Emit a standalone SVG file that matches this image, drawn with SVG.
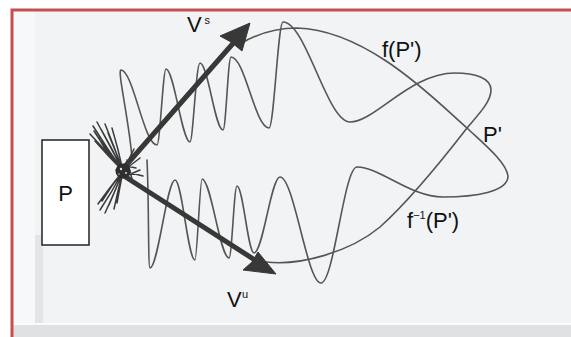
<svg xmlns="http://www.w3.org/2000/svg" width="571" height="337" viewBox="0 0 571 337">
<style>
.curve{fill:none;stroke:#555;stroke-width:1.6;stroke-linecap:round;stroke-linejoin:round}
.shaft{fill:none;stroke:#383838;stroke-width:5;stroke-linecap:round}
.head{fill:#383838;stroke:#383838;stroke-width:1;stroke-linejoin:round}
.scr{fill:none;stroke:#3a3a3a;stroke-width:1.5;stroke-linecap:round}
.lbl{font-family:"Liberation Sans",Arial,sans-serif;font-size:22px;fill:#111}
.sup{font-family:"Liberation Sans",Arial,sans-serif;font-size:11px;fill:#111}
.frame{fill:none;stroke:#c4504c;stroke-width:3}
</style>
<rect x="0" y="0" width="571" height="337" fill="#ffffff"/>
<rect x="12" y="10" width="559" height="327" fill="#f1f3f5"/>
<rect x="13" y="11" width="22" height="326" fill="#f7f8f9"/>
<rect x="35" y="235" width="8" height="102" fill="#e2e4e7"/>
<rect x="12" y="323" width="559" height="2" fill="#fafbfc"/>
<rect x="12" y="325" width="559" height="12" fill="#dfe1e3"/>
<path class="frame" d="M12,337 V10 H571"/>

<g id="connectors">
  <g id="upper-manifold">
    <path class="curve" d="M132,158 C129,120 117,70 121,70 C133,70 144,145 157,145 C160,145 163,69 166,69 C174,69 182,142 190,142 C193,142 196,63 200,63 C208,63 215,130 223,130 C226,130 228,57 231,57 C245,57 255,128 269,128 C274,128 278,22 283,22 C306,22 327,122 350,122 C375,122 410,73 455,73 C475,73 491,78 491,90 C491,102 478,115 467,128 C450,150 410,200 380,227 C350,252 300,266 266,262"/>
  </g>
  <g id="lower-manifold">
    <path class="curve" d="M147,160 C149,200 148,268 150,268 C158,268 167,180 175,180 C182,180 188,260 195,260 C197,260 200,179 202,179 C211,179 220,258 229,258 C232,258 234,186 237,186 C243,186 248,253 254,253 C263,253 271,177 280,177 C294,177 307,283 321,283 C334,283 344,167 357,167 C380,167 410,197 443,197 C475,197 508,192 508,176 C506,162 485,145 467,128 C440,105 370,30 297,28 C275,28 255,35 240,44"/>
  </g>
  <g id="arrow-vs">
    <line class="shaft" x1="121" y1="171" x2="236" y2="40"/>
    <polygon class="head" points="250,23 220,36 231,42 242,51"/>
  </g>
  <g id="arrow-vu">
    <line class="shaft" x1="124" y1="176" x2="258" y2="262"/>
    <polygon class="head" points="276,274 243,270 252,262 258,252"/>
  </g>
</g>

<g id="node-tangle">
  <path class="scr" d="M123,171 Q108,150 93,126 M123,171 Q110,146 97,122 M123,171 Q113,150 101,129 M123,171 Q114,146 105,124 M123,171 Q116,152 108,133 M123,171 Q118,148 112,128 M123,171 Q105,150 90,134 M123,171 Q108,156 95,141 M123,171 Q103,148 99,138 M120,166 Q106,150 94,131 M123,171 Q112,192 100,210 M123,171 Q114,194 105,213 M123,171 Q116,189 109,205 M123,171 Q118,190 114,209 M123,171 Q111,186 102,201 M123,171 Q120,186 117,203 M123,171 Q108,190 98,204 M123,171 L140,158 M123,171 L143,176 M123,171 L134,149 M123,171 L138,186 M117,164 L136,168 M119,179 L140,170 M116,170 L131,180 M127,160 L133,183"/>
  <circle cx="123" cy="171" r="7.5" fill="#2e2e2e"/>
  <circle cx="121" cy="169" r="1.2" fill="#ddd"/>
  <circle cx="126" cy="173" r="1" fill="#ddd"/>
  <circle cx="119" cy="174" r="0.8" fill="#ccc"/>
</g>

<g id="node-P">
  <rect x="42" y="140" width="47" height="105" fill="#ffffff" stroke="#222" stroke-width="1.5"/>
  <text class="lbl" x="65.5" y="201" text-anchor="middle">P</text>
</g>

<g id="label-vs">
  <text class="lbl" x="187" y="32">V</text><text class="sup" x="204.5" y="24">s</text>
</g>
<g id="label-vu">
  <text class="lbl" x="227" y="307">V</text><text class="sup" x="242" y="298">u</text>
</g>
<g id="label-fP">
  <text class="lbl" x="382" y="57">f(P')</text>
</g>
<g id="label-P1">
  <text class="lbl" x="483" y="142">P'</text>
</g>
<g id="label-finvP">
  <text class="lbl" x="407" y="228">f<tspan class="sup" dy="-9">−1</tspan><tspan dy="9">(P')</tspan></text>
</g>
</svg>
